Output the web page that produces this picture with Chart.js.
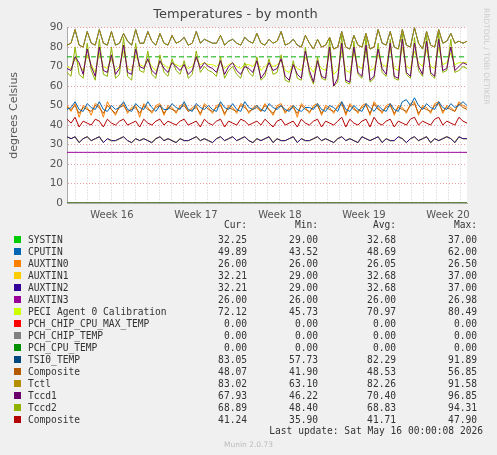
<!DOCTYPE html>
<html><head><meta charset="utf-8">
<script src="https://cdn.jsdelivr.net/npm/chart.js@4"></script>
<style>
body{margin:0;background:#f0f0f0;width:497px;height:455px;overflow:hidden;font-family:"DejaVu Sans",sans-serif}
#wrap{position:absolute;left:0;top:0;width:497px;height:227px}
#leg{position:absolute;left:12px;top:219px;font-family:"DejaVu Sans Mono",monospace;font-size:9.6px;color:#333;border-collapse:collapse;table-layout:fixed;width:465px}
#leg td{padding:0;height:12px;line-height:12px;white-space:pre;overflow:visible}
#leg tr.h td{height:15px;line-height:12px;vertical-align:top}
#leg td.n{text-align:right}
.sw{display:inline-block;width:7px;height:7px;margin-right:7px;margin-left:2px}
#upd{position:absolute;right:14px;top:425px;font-family:"DejaVu Sans Mono",monospace;font-size:9.6px;color:#333}
#mun{position:absolute;left:0;width:497px;text-align:center;top:440px;font-size:7.5px;color:#bbb}
#rrd{position:absolute;left:482px;top:8px;writing-mode:vertical-rl;font-size:7.5px;color:#ccc}
</style></head><body>
<div id="wrap"><canvas id="c" width="497" height="227"></canvas></div>
<div id="rrd">RRDTOOL / TOBI OETIKER</div>
<table id="leg"><colgroup><col style="width:150px"><col style="width:85px"><col style="width:71px"><col style="width:78px"><col style="width:81px"></colgroup><tbody id="lb"></tbody></table>
<div id="upd">Last update: Sat May 16 00:00:08 2026</div>
<div id="mun">Munin 2.0.73</div>
<script>
const weekLabels=["Week 16","Week 17","Week 18","Week 19","Week 20"];
const tctl=[81,82,89,81,80,88,82,81,89,82,81,88,81,82,87,83,81,89,82,82,88,83,81,87,82,81,86,82,83,85,81,82,88,82,84,83,82,82,86,81,83,84,82,81,85,83,82,87,82,81,84,82,83,88,81,82,84,81,80,86,82,79,84,80,81,85,79,80,88,80,79,86,81,80,87,79,80,89,82,81,88,80,79,89,81,80,90,82,79,88,81,80,89,82,83,87,82,83,82,83];
const tccd2=[67,65,80,66,64,82,68,63,84,66,65,80,64,66,85,65,63,82,68,67,78,66,64,76,67,65,74,68,66,73,64,66,78,67,70,68,67,65,75,64,68,70,66,64,72,67,65,75,63,65,74,66,67,76,63,62,73,64,63,80,66,61,75,64,63,84,60,62,86,62,61,83,66,64,85,62,64,82,67,65,84,64,63,87,66,64,85,68,65,86,66,64,87,67,68,84,67,68,70,69];
const tccd1=[69,68,75,72,66,79,70,65,80,68,67,76,66,69,81,67,66,79,70,69,74,68,66,73,69,67,72,70,68,71,66,68,75,69,72,70,69,67,73,66,70,72,68,66,70,69,67,73,64,67,72,68,69,74,65,63,71,66,64,78,68,62,73,65,64,80,60,64,82,63,62,80,67,65,81,63,65,79,69,66,82,65,64,84,67,65,82,70,66,83,67,65,84,68,69,80,68,70,72,71];
const peci=[70,69,74,71,68,76,71,67,77,70,69,74,68,70,78,69,68,76,71,70,73,70,68,72,71,69,72,71,70,71,69,70,74,71,72,71,71,70,72,69,71,72,70,69,71,71,70,73,68,70,72,70,71,73,68,67,71,69,68,75,70,67,72,69,68,77,66,68,78,68,67,77,70,69,78,68,69,76,71,70,79,69,68,80,70,69,78,72,70,79,70,69,80,71,72,77,71,72,72,72];
const cputin=[48,49,52,48,47,51,49,48,52,48,47,50,48,49,52,48,47,51,49,48,52,49,47,50,48,48,51,49,48,52,48,47,51,49,48,50,48,47,52,49,48,51,48,47,52,49,48,50,48,47,51,49,48,50,48,47,50,48,47,49,49,48,51,48,47,50,49,47,52,48,47,50,48,47,51,49,47,50,48,47,51,48,47,52,53,50,54,50,48,51,49,48,52,49,48,51,49,50,52,50];
const auxtin0=[50,47,51,44,50,49,45,51,50,44,52,48,45,50,51,46,49,50,44,51,49,46,50,51,45,50,49,46,50,51,47,49,50,45,51,49,46,50,51,45,50,49,46,51,50,46,49,50,47,51,48,45,50,51,46,49,50,44,51,49,46,50,51,45,50,49,46,50,52,45,51,49,46,50,51,45,52,49,46,50,51,45,50,49,46,51,52,45,50,49,46,51,52,46,50,49,47,52,50,49];
const comp1=[49,48,50,46,49,48,47,50,49,46,50,48,46,49,50,47,48,49,46,50,48,47,49,50,46,49,48,47,49,50,47,48,49,46,50,48,47,49,50,46,49,48,47,50,49,47,48,49,47,50,48,46,49,50,47,48,49,46,50,48,47,49,50,46,49,48,47,49,51,46,50,48,47,49,50,46,51,48,47,49,50,46,49,48,47,50,51,46,49,48,47,50,51,47,49,48,47,51,49,48];
const comp2=[43,41,44,39,42,41,40,43,42,39,43,41,40,42,43,40,41,42,39,43,41,40,42,43,40,42,41,40,42,43,40,41,42,39,43,41,40,42,43,39,42,41,40,43,42,40,41,42,40,43,41,39,42,43,40,41,42,39,43,41,40,42,43,39,42,41,40,42,44,39,43,41,40,42,43,39,44,41,40,42,43,39,42,41,40,43,44,40,42,41,40,43,44,40,42,41,40,44,42,41];
const systin=[34,33,34,31,33,34,32,33,34,31,33,32,32,33,34,32,31,33,32,33,32,31,33,34,32,33,32,31,33,32,32,33,34,32,33,32,31,33,34,32,33,34,32,33,34,32,31,33,32,33,34,31,33,32,32,33,34,31,33,32,32,33,34,32,33,32,31,33,34,32,33,32,31,34,33,32,33,34,31,33,32,32,34,33,31,33,34,32,33,34,31,33,32,33,34,33,31,34,33,33];
const auxtin3=Array(100).fill(26);
const zeros=Array(100).fill(0);
const warn=Array(100).fill(75);
const names=["SYSTIN","CPUTIN","AUXTIN0","AUXTIN1","AUXTIN2","AUXTIN3","PECI Agent 0 Calibration","PCH_CHIP_CPU_MAX_TEMP","PCH_CHIP_TEMP","PCH_CPU_TEMP","TSI0_TEMP","Composite","Tctl","Tccd1","Tccd2","Composite"];
const colors=["#00cc00","#0066b3","#ff8000","#ffcc00","#330099","#990099","#ccff00","#ff0000","#808080","#008f00","#00487d","#b35a00","#b38f00","#6b006b","#8fb300","#b30000"];
const cur=["32.25","49.89","26.00","32.21","32.21","26.00","72.12","0.00","0.00","0.00","83.05","48.07","83.02","67.93","68.89","41.24"];
const mins=["29.00","43.52","26.00","29.00","29.00","26.00","45.73","0.00","0.00","0.00","57.73","41.90","63.10","46.22","48.40","35.90"];
const avgs=["32.68","48.69","26.05","32.68","32.68","26.00","70.97","0.00","0.00","0.00","82.29","48.53","82.26","70.40","68.83","41.71"];
const maxs=["37.00","62.00","26.50","37.00","37.00","26.98","80.49","0.00","0.00","0.00","91.89","56.85","91.58","96.85","94.31","47.90"];
const series=[systin,cputin,auxtin0,systin,systin,auxtin3,peci,zeros,zeros,zeros,tctl,comp1,tctl,tccd1,tccd2,comp2];
const drawOrder=[12,10,13,14,6,1,11,2,15,4,3,0,5,9,8,7];
const ds=drawOrder.map(i=>({data:series[i].map((v,k)=>({x:k,y:v})),borderColor:colors[i],borderWidth:1,pointRadius:0,tension:0}));
ds.push({data:warn.map((v,k)=>({x:k,y:v})),borderColor:"#00aa00",borderWidth:1,borderDash:[5,3],pointRadius:0});
const wk0=11.1,wk=20.8;
new Chart(document.getElementById('c'),{type:'line',data:{datasets:ds},
options:{responsive:false,animation:false,layout:{padding:{top:0,right:30,left:4,bottom:0}},
plugins:{legend:{display:false},tooltip:{enabled:false},
title:{display:true,text:"Temperatures - by month",color:"#444",font:{family:"DejaVu Sans",size:13,weight:'normal'},padding:{top:7,bottom:5}}},
scales:{x:{type:'linear',min:0,max:99,
afterBuildTicks:a=>{const t=[];for(let v=wk0-3*wk/7;v<=99;v+=wk/7){if(v>=0)t.push({value:v});}a.ticks=t;},
ticks:{autoSkip:false,maxRotation:0,color:"#555",font:{family:"DejaVu Sans",size:10},padding:6,
callback:function(v){const w=(v-wk0)/wk;const r=Math.round(w);return Math.abs(w-r)<0.01?weekLabels[r]:"";}},
grid:{color:"#cccccc",drawTicks:false},border:{color:"#aaa",dash:[1,2]}},
y:{min:0,max:90,afterFit:s=>{s.width=63;},ticks:{stepSize:10,color:"#555",font:{family:"DejaVu Sans",size:10.5},padding:4},
grid:{color:"#eaa0a0",drawTicks:false},border:{color:"#aaa",dash:[1,2]},
title:{display:true,text:"degrees Celsius",color:"#555",font:{family:"DejaVu Sans",size:11},padding:{bottom:14}}}}},
plugins:[{id:'bg',beforeDraw(ch){const a=ch.chartArea,x=ch.ctx;x.save();x.fillStyle="#fff";x.fillRect(a.left,a.top,a.right-a.left,a.bottom-a.top);x.restore();}}]});
let h='<tr class="h"><td></td><td class="n">Cur:</td><td class="n">Min:</td><td class="n">Avg:</td><td class="n">Max:</td></tr>';
names.forEach((n,i)=>{h+=`<tr><td><span class="sw" style="background:${colors[i]}"></span>${n}</td><td class="n">${cur[i]}</td><td class="n">${mins[i]}</td><td class="n">${avgs[i]}</td><td class="n">${maxs[i]}</td></tr>`;});
document.getElementById('lb').innerHTML=h;
</script></body></html>
